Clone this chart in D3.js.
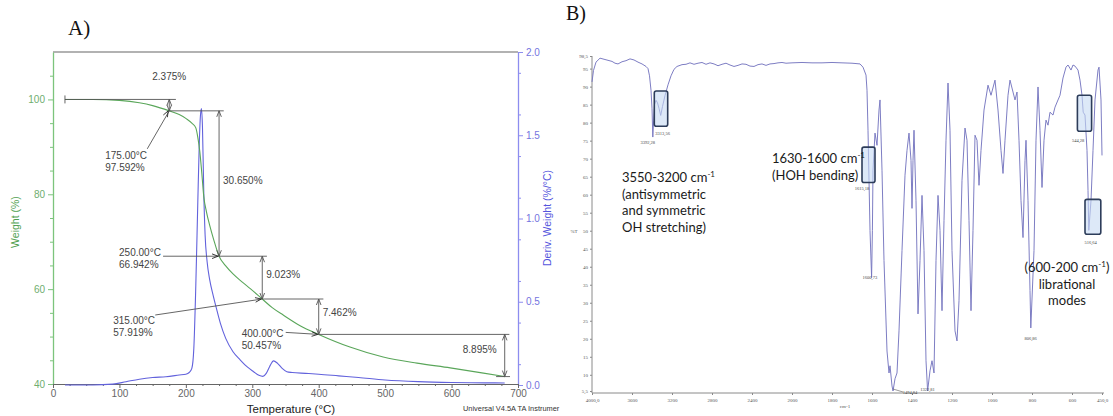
<!DOCTYPE html>
<html>
<head>
<meta charset="utf-8">
<script src="https://cdn.jsdelivr.net/npm/d3@7"></script>
<style>
body { margin: 0; background: #fff; }
svg text { font-family: "Liberation Sans", Arial, sans-serif; }
</style>
</head>
<body>
<div id="canvas"></div>
<script>
"use strict"

let drawingWidth = 1113;
let drawingHeight = 416;

/* A) weight curve (TGA) */
let tgaTemp = [18, 60, 100, 130, 150, 175, 190, 201, 209, 215,
    218, 221, 224, 227, 231, 236, 242, 250, 260, 271,
    284, 297, 315, 330, 347, 372, 400, 447, 497, 548,
    598, 648, 680];
let tgaWeight = [100, 100, 99.8, 99.3, 98.7, 97.59, 96.8, 95.9, 95.0, 94.0,
    92.0, 89.0, 84.5, 79.5, 76.3, 73.4, 70.4, 66.94, 64.9, 63.2,
    61.6, 60.1, 57.92, 56.1, 54.5, 52.3, 50.46, 47.8, 45.7, 44.4,
    43.4, 42.3, 41.56];

/* A) derivative weight curve (DTG) */
let dtgTemp = [18, 60, 90, 110, 130, 150, 170, 190, 200, 205,
    209, 212, 215, 218, 220, 222, 223.5, 225, 227, 229,
    232, 236, 241, 246, 252, 260, 271, 282, 292, 302,
    310, 316, 321, 326, 332, 338, 345, 352, 360, 380,
    400, 430, 460, 500, 550, 600, 650, 680];
let dtgDeriv = [0, 0, 0.005, 0.02, 0.035, 0.045, 0.05, 0.06, 0.065, 0.075,
    0.1, 0.22, 0.6, 1.1, 1.42, 1.62, 1.66, 1.55, 1.15, 0.9,
    0.74, 0.63, 0.54, 0.46, 0.37, 0.28, 0.2, 0.15, 0.11, 0.08,
    0.058, 0.052, 0.07, 0.11, 0.145, 0.13, 0.1, 0.08, 0.075, 0.07,
    0.065, 0.055, 0.045, 0.03, 0.02, 0.015, 0.013, 0.012];

let tempTicks = [0, 100, 200, 300, 400, 500, 600, 700];
let weightTicks = [40, 60, 80, 100];
let derivTicks = [0, 0.5, 1.0, 1.5, 2.0];

/* A) step analysis */
let stepTemps = [175, 250, 315, 400, 680];
let stepWeights = [97.592, 66.942, 57.919, 50.457, 41.562];
let stepLosses = ["2.375%", "30.650%", "9.023%", "7.462%", "8.895%"];
let pointLabels = [["175.00°C", "97.592%"], ["250.00°C", "66.942%"],
    ["315.00°C", "57.919%"], ["400.00°C", "50.457%"]];

/* B) IR spectrum */
let irWavenumber = [4000, 3985, 3960, 3920, 3880, 3840, 3800, 3770, 3740, 3700,
    3660, 3620, 3580, 3540, 3500, 3460, 3440, 3425, 3410, 3400,
    3392, 3384, 3375, 3360, 3345, 3330, 3313, 3295, 3270, 3240,
    3210, 3180, 3150, 3100, 3060, 3020, 2980, 2940, 2900, 2860,
    2820, 2780, 2740, 2700, 2660, 2620, 2580, 2540, 2500, 2460,
    2420, 2380, 2340, 2300, 2260, 2220, 2180, 2140, 2100, 2060,
    2000, 1950, 1900, 1850, 1800, 1750, 1700, 1660, 1645, 1630,
    1625, 1620, 1615, 1610, 1602, 1598, 1595, 1585, 1575, 1565,
    1560, 1550, 1540, 1525, 1515, 1510, 1500, 1495, 1485, 1475,
    1465, 1450, 1435, 1425, 1415, 1405, 1400, 1395, 1390, 1380,
    1370, 1360, 1350, 1340, 1330, 1322, 1310, 1300, 1290, 1280,
    1270, 1260, 1250, 1240, 1230, 1220, 1210, 1200, 1185, 1175,
    1165, 1150, 1135, 1125, 1115, 1105, 1095, 1085, 1075, 1065,
    1055, 1040, 1020, 1005, 985, 970, 955, 945, 935, 920,
    910, 895, 885, 875, 865, 855, 845, 835, 830, 820,
    810, 806, 790, 780, 770, 760, 750, 740, 730, 720,
    710, 695, 685, 670, 660, 645, 630, 620, 605, 595,
    585, 570, 560, 550, 544, 535, 525, 520, 516, 505,
    495, 485, 470, 465, 455, 450];
let irTransmittance = [91.3, 94.5, 96.8, 97.9, 97.6, 97.3, 97.0, 96.5, 96.3, 96.9,
    97.2, 97.7, 97.4, 96.8, 96.3, 95.6, 95.0, 93.0, 89.0, 84.0,
    76.0, 80.5, 85.0, 86.2, 85.5, 84.0, 82.0, 84.5, 87.5, 90.5,
    93.0, 94.8, 95.6, 96.1, 96.2, 96.6, 96.2, 96.5, 96.7, 96.2,
    96.6, 96.3, 95.8, 96.2, 96.5, 96.0, 95.6, 95.9, 96.3, 96.2,
    95.7, 95.6, 96.1, 96.3, 95.9, 96.3, 96.4, 96.6, 96.7, 96.5,
    96.6, 96.7, 96.6, 96.6, 96.7, 96.6, 96.5, 96.3, 95.4, 93.2,
    89.0, 77.9, 64.0, 50.1, 37.0, 50.1, 66.8, 77.1, 73.7, 83.5,
    86.3, 66.8, 41.7, 16.6, 10.5, 12.5, 6.9, 5.5, 8.9, 10.5,
    22.2, 44.5, 65.4, 72.3, 77.1, 69.5, 56.2, 69.5, 77.9, 58.4,
    26.9, 41.7, 59.8, 44.5, 13.9, 5.5, 11.1, 13.9, 10.5, 41.7,
    59.8, 50.1, 27.8, 52.8, 75.1, 91.0, 77.9, 44.5, 22.2, 19.4,
    30.6, 64.0, 78.5, 75.1, 52.8, 27.8, 50.1, 76.5, 75.1, 62.6,
    72.3, 83.5, 90.4, 87.6, 91.8, 83.5, 72.3, 65.9, 75.1, 87.6,
    91.8, 88.5, 86.3, 88.5, 75.1, 58.4, 48.1, 69.5, 75.1, 58.4,
    33.4, 23.0, 44.5, 75.1, 89.9, 77.9, 62.0, 75.1, 80.7, 79.3,
    82.9, 82.1, 84.3, 86.3, 87.6, 92.4, 95.4, 96.0, 94.6, 96.0,
    95.7, 94.6, 91.8, 87.6, 82.9, 82.1, 72.3, 61.2, 50.1, 58.4,
    72.3, 86.3, 94.6, 95.4, 86.3, 70.9];

let irXTicks = [4000, 3600, 3200, 2800, 2400, 2000, 1800, 1600, 1400, 1200, 1000, 800, 600, 450];
let irXTickLabels = ["4000,0", "3600", "3200", "2800", "2400", "2000", "1800", "1600",
    "1400", "1200", "1000", "800", "600", "450,0"];
let irYTicks = [98.5, 95, 90, 85, 80, 75, 70, 65, 60, 55, 50, 45, 40, 35, 30, 25, 20, 15, 10, 5.5];
let irYTickLabels = ["98,5", "95", "90", "85", "80", "75", "70", "65", "60", "55", "50",
    "45", "40", "35", "30", "25", "20", "15", "10", "5,5"];
let peakWavenumbers = [3392.28, 3313.56, 1615.18, 1600.73, 1494.84, 1322.81, 806.86, 544.28, 516.64];
let peakLabels = ["3392,28", "3313,56", "1615,18", "1600,73", "1494,84", "1322,81", "806,86", "544,28", "516,64"];

let drawing = d3.select("#canvas")
    .append("svg")
    .attr("width", drawingWidth)
    .attr("height", drawingHeight);

drawing.append("rect")
    .attr("width", drawingWidth)
    .attr("height", drawingHeight)
    .attr("fill", "white");

/* small open arrow head whose tip is at (x, y), coming from (fx, fy) */
function arrowHead(x, y, fx, fy, color) {
    let a = Math.atan2(y - fy, x - fx);
    let len = 6, w = 2.3;
    let bx = x - len * Math.cos(a), by = y - len * Math.sin(a);
    let px = -Math.sin(a) * w, py = Math.cos(a) * w;
    drawing.append("path")
        .attr("d", `M${bx + px},${by + py}L${x},${y}L${bx - px},${by - py}`)
        .attr("fill", "none")
        .attr("stroke", color)
        .attr("stroke-width", 0.9);
}

function drawPanelA() {
    let xT = d3.scaleLinear().domain([0, 700]).range([53, 518]);
    let yW = d3.scaleLinear().domain([40, 110]).range([384, 52]);
    let yD = d3.scaleLinear().domain([0, 2]).range([385, 52]);

    let greenAxis = "#7cc47c", greenText = "#6fae6f";
    let blueAxis = "#8d8def", blueText = "#7474e0";
    let ann = "#555";

    drawing.append("text")
        .attr("x", 68).attr("y", 35)
        .style("font-family", "'Liberation Serif', serif")
        .style("font-size", "21px")
        .attr("fill", "#111")
        .text("A)");

    // top frame
    drawing.append("line")
        .attr("x1", xT(0)).attr("x2", xT(700))
        .attr("y1", yW(110)).attr("y2", yW(110))
        .attr("stroke", "#999").attr("stroke-width", 1.3);

    // left axis (weight)
    let gl = drawing.append("g").attr("transform", `translate(${xT(0)},0)`)
        .call(d3.axisLeft(yW).tickValues(weightTicks).tickSize(5).tickSizeOuter(0).tickPadding(3));
    gl.append("g").call(d3.axisLeft(yW).tickValues(d3.range(45, 110, 5).filter(d => d % 20 != 0)).tickSize(3).tickFormat(""))
        .select(".domain").remove();
    gl.selectAll(".domain").attr("stroke", greenAxis).attr("stroke-width", 1.3);
    gl.selectAll(".tick line").attr("stroke", greenAxis);
    gl.selectAll(".tick text").attr("fill", greenText).style("font-size", "10px")
        .style("font-family", "'Liberation Sans', Arial, sans-serif");

    // right axis (derivative)
    let gr = drawing.append("g").attr("transform", `translate(${xT(700)},0)`)
        .call(d3.axisRight(yD).tickValues(derivTicks).tickFormat(d3.format(".1f")).tickSize(5).tickSizeOuter(0).tickPadding(3));
    gr.append("g").call(d3.axisRight(yD).tickValues(d3.range(0.125, 2, 0.25)).tickSize(3).tickFormat(""))
        .select(".domain").remove();
    gr.selectAll(".domain").attr("stroke", blueAxis).attr("stroke-width", 1.3);
    gr.selectAll(".tick line").attr("stroke", blueAxis);
    gr.selectAll(".tick text").attr("fill", blueText).style("font-size", "10px")
        .style("font-family", "'Liberation Sans', Arial, sans-serif");

    // bottom axis (temperature)
    let gb = drawing.append("g").attr("transform", `translate(0,${yW(40)})`)
        .call(d3.axisBottom(xT).tickValues(tempTicks).tickSize(4).tickSizeOuter(0).tickPadding(2));
    gb.append("g").call(d3.axisBottom(xT).tickValues(d3.range(25, 700, 25).filter(d => d % 100 != 0)).tickSize(2).tickFormat(""))
        .select(".domain").remove();
    gb.selectAll(".domain").attr("stroke", "#666").attr("stroke-width", 1.2);
    gb.selectAll(".tick line").attr("stroke", "#666");
    gb.selectAll(".tick text").attr("fill", "#666").style("font-size", "10px")
        .style("font-family", "'Liberation Sans', Arial, sans-serif");

    // axis titles
    drawing.append("text")
        .attr("transform", `translate(19,222) rotate(-90)`)
        .attr("text-anchor", "middle")
        .attr("fill", "#4f9f4f")
        .style("font-size", "10.5px")
        .text("Weight (%)");
    drawing.append("text")
        .attr("transform", `translate(551,218) rotate(-90)`)
        .attr("text-anchor", "middle")
        .attr("fill", "#5555dd")
        .style("font-size", "10.5px")
        .text("Deriv. Weight (%/°C)");
    drawing.append("text")
        .attr("x", 291).attr("y", 413)
        .attr("text-anchor", "middle")
        .attr("fill", "#222")
        .style("font-size", "11.5px")
        .text("Temperature (°C)");
    drawing.append("text")
        .attr("x", 463).attr("y", 411)
        .attr("fill", "#333")
        .style("font-size", "7.4px")
        .text("Universal V4.5A TA Instrumer");

    // curves
    let dtgLine = d3.line()
        .x((d, i) => xT(dtgTemp[i]))
        .y(d => yD(d))
        .curve(d3.curveMonotoneX);
    drawing.append("path")
        .attr("d", dtgLine(dtgDeriv))
        .attr("fill", "none")
        .attr("stroke", "#6262dc")
        .attr("stroke-width", 1.1);

    let tgaLine = d3.line()
        .x((d, i) => xT(tgaTemp[i]))
        .y(d => yW(d))
        .curve(d3.curveMonotoneX);
    drawing.append("path")
        .attr("d", tgaLine(tgaWeight))
        .attr("fill", "none")
        .attr("stroke", "#5aa65a")
        .attr("stroke-width", 1.1);

    // step analysis: level lines and vertical double arrows
    let hline = function(w, t1, t2) {
        drawing.append("line")
            .attr("x1", xT(t1)).attr("x2", xT(t2))
            .attr("y1", yW(w)).attr("y2", yW(w))
            .attr("stroke", ann).attr("stroke-width", 0.9);
    };
    let vArrow = function(t, w1, w2) {
        let x = xT(t), y1 = yW(w1), y2 = yW(w2);
        drawing.append("line")
            .attr("x1", x).attr("x2", x).attr("y1", y1).attr("y2", y2)
            .attr("stroke", ann).attr("stroke-width", 0.9);
        arrowHead(x, y1, x, y2, ann);
        arrowHead(x, y2, x, y1, ann);
    };

    // start level with end cap
    hline(100, 18, stepTemps[0] + 10);
    drawing.append("line")
        .attr("x1", xT(18)).attr("x2", xT(18))
        .attr("y1", yW(100) - 4).attr("y2", yW(100) + 4)
        .attr("stroke", ann).attr("stroke-width", 0.9);

    let prev = 100;
    stepTemps.forEach(function(t, i) {
        vArrow(t, prev, stepWeights[i]);
        let next = i + 1 < stepTemps.length ? stepTemps[i + 1] + 7 : t + 8;
        let start = i + 1 < stepTemps.length ? t : t - 13;
        hline(stepWeights[i], start, next);
        prev = stepWeights[i];
    });

    // step percentages
    let lossPos = [
        {x: xT(175), y: yW(110) + 28, anchor: "middle"},
        {x: xT(250) + 4, y: 184, anchor: "start"},
        {x: xT(315) + 4, y: 278, anchor: "start"},
        {x: xT(400) + 4, y: 316, anchor: "start"},
        {x: xT(680) - 8, y: 353, anchor: "end"}
    ];
    stepLosses.forEach(function(s, i) {
        drawing.append("text")
            .attr("x", lossPos[i].x).attr("y", lossPos[i].y)
            .attr("text-anchor", lossPos[i].anchor)
            .attr("fill", "#444")
            .style("font-size", "10px")
            .text(s);
    });

    // point labels with leaders
    let labelPos = [
        {dx: -64, dy: 48, lx: -22, ly: 38},
        {dx: -100, dy: 0, lx: -56, ly: 0},
        {dx: -149, dy: 25, lx: -107, ly: 16},
        {dx: -77, dy: 3, lx: -33, ly: -2}
    ];
    pointLabels.forEach(function(lab, i) {
        let px = xT(stepTemps[i]), py = yW(stepWeights[i]);
        let p = labelPos[i];
        let t = drawing.append("text")
            .attr("x", px + p.dx).attr("y", py + p.dy)
            .attr("fill", "#444")
            .style("font-size", "10px");
        t.append("tspan").text(lab[0]);
        t.append("tspan").attr("x", px + p.dx).attr("dy", 12).text(lab[1]);
        drawing.append("line")
            .attr("x1", px + p.lx).attr("y1", py + p.ly)
            .attr("x2", px).attr("y2", py)
            .attr("stroke", ann).attr("stroke-width", 0.9);
        arrowHead(px - 1, py, px + p.lx, py + p.ly, "#222");
    });
}

function drawPanelB() {
    let xW = d3.scaleLinear().domain([4000, 2000, 450]).range([592, 792, 1102]);
    let yP = d3.scaleLinear().domain([5.5, 98.5]).range([391, 56]);
    let axisColor = "#8a8a8a";
    let baseY = 393;
    let serif = "'Liberation Serif', serif";

    drawing.append("text")
        .attr("x", 566).attr("y", 20)
        .style("font-family", serif)
        .style("font-size", "20px")
        .attr("fill", "#111")
        .text("B)");

    // frame lines
    drawing.append("line")
        .attr("x1", xW(4000)).attr("x2", xW(4000))
        .attr("y1", yP(98.5)).attr("y2", baseY)
        .attr("stroke", axisColor).attr("stroke-width", 1);
    drawing.append("line")
        .attr("x1", xW(4000)).attr("x2", xW(450) + 2)
        .attr("y1", baseY).attr("y2", baseY)
        .attr("stroke", axisColor).attr("stroke-width", 1);

    let gy = drawing.append("g").attr("transform", `translate(${xW(4000)},0)`)
        .call(d3.axisLeft(yP).tickValues(irYTicks).tickFormat((d, i) => irYTickLabels[i]).tickSize(2).tickPadding(2));
    let gx = drawing.append("g").attr("transform", `translate(0,${baseY})`)
        .call(d3.axisBottom(xW).tickValues(irXTicks).tickFormat((d, i) => irXTickLabels[i]).tickSize(2).tickPadding(3));
    [gy, gx].forEach(function(g) {
        g.select(".domain").remove();
        g.selectAll(".tick line").attr("stroke", axisColor);
        g.selectAll(".tick text").attr("fill", "#555")
            .style("font-family", serif).style("font-size", "5px");
    });

    drawing.append("text")
        .attr("x", 574).attr("y", yP(50) + 2)
        .attr("text-anchor", "middle")
        .attr("fill", "#555")
        .style("font-family", serif).style("font-size", "5px")
        .text("%T");
    drawing.append("text")
        .attr("x", 845).attr("y", 408)
        .attr("text-anchor", "middle")
        .attr("fill", "#555")
        .style("font-family", serif).style("font-size", "5px")
        .text("cm-1");

    // spectrum
    let irLine = d3.line()
        .x((d, i) => xW(irWavenumber[i]))
        .y(d => yP(d));
    drawing.append("path")
        .attr("d", irLine(irTransmittance))
        .attr("fill", "none")
        .attr("stroke", "#7676c0")
        .attr("stroke-width", 0.95);

    // band boxes (wavenumber range, transmittance range)
    let boxes = [[3377, 3243, 88.8, 79.0], [1650, 1585, 73.2, 63.4],
        [573, 502, 87.6, 77.6], [535, 456, 58.7, 49.0]];
    boxes.forEach(function(b) {
        drawing.append("rect")
            .attr("x", xW(b[0])).attr("y", yP(b[2]))
            .attr("width", xW(b[1]) - xW(b[0]))
            .attr("height", yP(b[3]) - yP(b[2]))
            .attr("rx", 2)
            .attr("fill", "#c6daf3").attr("fill-opacity", 0.6)
            .attr("stroke", "#2d3d5a").attr("stroke-width", 1.6);
    });

    // peak labels
    let tAt = function(wn) {
        for (let i = 1; i < irWavenumber.length; i++) {
            if (irWavenumber[i] <= wn) {
                let f = (wn - irWavenumber[i - 1]) / (irWavenumber[i] - irWavenumber[i - 1]);
                return irTransmittance[i - 1] + f * (irTransmittance[i] - irTransmittance[i - 1]);
            }
        }
        return irTransmittance[irTransmittance.length - 1];
    };
    let offsets = [[-5, 8], [2, 20], [-7, 12], [-2, 16], [17, 3], [0, 3], [0, 20], [-5, 31], [2, 20]];
    peakWavenumbers.forEach(function(wn, i) {
        let px = xW(wn), py = yP(tAt(wn));
        drawing.append("text")
            .attr("x", px + offsets[i][0]).attr("y", py + offsets[i][1])
            .attr("text-anchor", "middle")
            .attr("fill", "#444")
            .style("font-family", serif).style("font-size", "4.5px")
            .text(peakLabels[i]);
    });
    // leader from the 1494 minimum to its label
    drawing.append("line")
        .attr("x1", xW(1494.84)).attr("y1", yP(5.5) - 2)
        .attr("x2", xW(1494.84) + 10).attr("y2", yP(5.5) + 1)
        .attr("stroke", "#555").attr("stroke-width", 0.6);

    // band notes
    let lato = "Lato, 'Open Sans', sans-serif";
    let notes = [
        {x: 622, y: 182, anchor: "start", lines: [["3550-3200 cm", "-1", ""], ["(antisymmetric"], ["and symmetric"], ["OH stretching)"]]},
        {x: 772, y: 163, anchor: "start", lines: [["1630-1600 cm", "-1", ""], ["(HOH bending)"]]},
        {x: 1067, y: 272, anchor: "middle", lines: [["(600-200 cm", "-1", ")"], ["librational"], ["modes"]]}
    ];
    notes.forEach(function(n) {
        n.lines.forEach(function(l, k) {
            let t = drawing.append("text")
                .attr("x", n.x).attr("y", n.y + k * 16.6)
                .attr("text-anchor", n.anchor)
                .attr("fill", "#1a1a1a")
                .style("font-family", lato)
                .style("font-size", "13px")
                .text(l[0]);
            if (l.length > 1) {
                t.append("tspan").attr("dy", -5).style("font-size", "8px").text(l[1]);
                t.append("tspan").attr("dy", 5).text(l[2]);
            }
        });
    });
}

drawPanelA();
drawPanelB();
</script>
</body>
</html>
